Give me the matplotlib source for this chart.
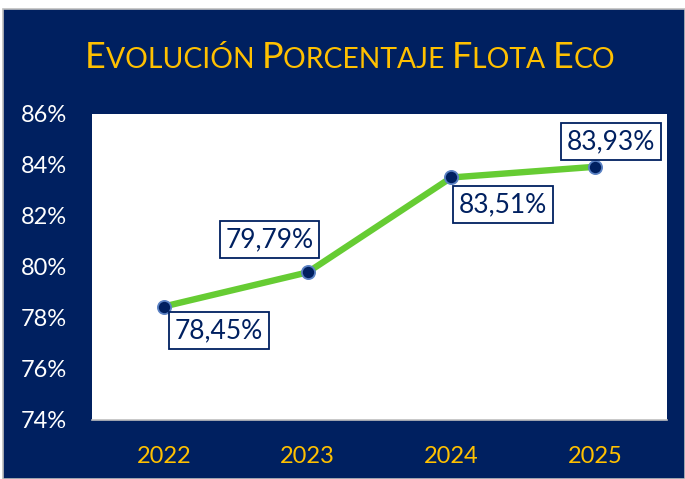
import matplotlib
matplotlib.use("Agg")
import matplotlib.pyplot as plt
from matplotlib.patches import Rectangle
from matplotlib.offsetbox import TextArea, HPacker, AnchoredOffsetbox

years = ["2022", "2023", "2024", "2025"]
values = [78.45, 79.79, 83.51, 83.93]
labels = ["78,45%", "79,79%", "83,51%", "83,93%"]
yticks = [74, 76, 78, 80, 82, 84, 86]
ytick_labels = ["74%", "76%", "78%", "80%", "82%", "84%", "86%"]
title_parts = [("E", True), ("VOLUCIÓN ", False), ("P", True), ("ORCENTAJE ", False),
               ("F", True), ("LOTA ", False), ("E", True), ("CO", False)]

NAVY = "#002060"
GOLD = "#FFC000"
GREEN = "#66CC33"
FONT = ["Lato", "DejaVu Sans"]
plt.rcParams['font.family'] = FONT

W, H = 685, 479
fig = plt.figure(figsize=(W / 100, H / 100), dpi=100, facecolor="white")
fig.patches.append(Rectangle((3 / W, 0), 1 - 3 / W, 1 - 9 / H, transform=fig.transFigure,
                             facecolor=NAVY, edgecolor="#BFBFBF", linewidth=1.2, zorder=-5))

ax = fig.add_axes([92 / W, (H - 420) / H, (667 - 92) / W, (420 - 114) / H])
ax.set_zorder(2)
ax.set_facecolor("white")
x = list(range(len(years)))
ax.plot(x, values, color=GREEN, linewidth=4.6, solid_capstyle="butt", zorder=2)
ax.plot(x, values, linestyle="none", marker="o", markersize=9.5, markerfacecolor=NAVY,
        markeredgecolor="#5B82C4", markeredgewidth=1.3, zorder=3)
ax.set_xlim(-0.5, 3.5)
ax.set_ylim(74, 86)
ax.set_yticks(yticks)
ax.set_yticklabels(ytick_labels)
ax.set_xticks(x)
ax.set_xticklabels(years)
ax.tick_params(axis="y", length=0, pad=18, labelsize=17, labelcolor="white")
ax.tick_params(axis="x", length=0, pad=19, labelsize=17, labelcolor=GOLD)
for s in ["top", "left", "right"]:
    ax.spines[s].set_visible(False)
ax.spines["bottom"].set_color("#BFBFBF")
ax.spines["bottom"].set_linewidth(1.2)

offsets = [(55, -24), (-38, 33), (52, -27), (16, 25)]
for xi, v, lab, (dx, dy) in zip(x, values, labels, offsets):
    ax.annotate(lab, (xi, v), xytext=(dx * 0.72, dy * 0.72), textcoords="offset points",
                ha="center", va="center", fontsize=19, color=NAVY, zorder=4,
                bbox=dict(boxstyle="square,pad=0.22", facecolor="white",
                          edgecolor=NAVY, linewidth=1.3))

areas = [TextArea(t, textprops=dict(color=GOLD, fontsize=(26 if big else 20.3), family=FONT))
         for t, big in title_parts]
pack = HPacker(children=areas, align="baseline", pad=0, sep=0)
anch = AnchoredOffsetbox(loc="center", child=pack, frameon=False,
                         bbox_to_anchor=(350 / W, 1 - 57 / H), bbox_transform=fig.transFigure,
                         borderpad=0)
fig.add_artist(anch)

fig.savefig("out.png", dpi=100, facecolor="white")
